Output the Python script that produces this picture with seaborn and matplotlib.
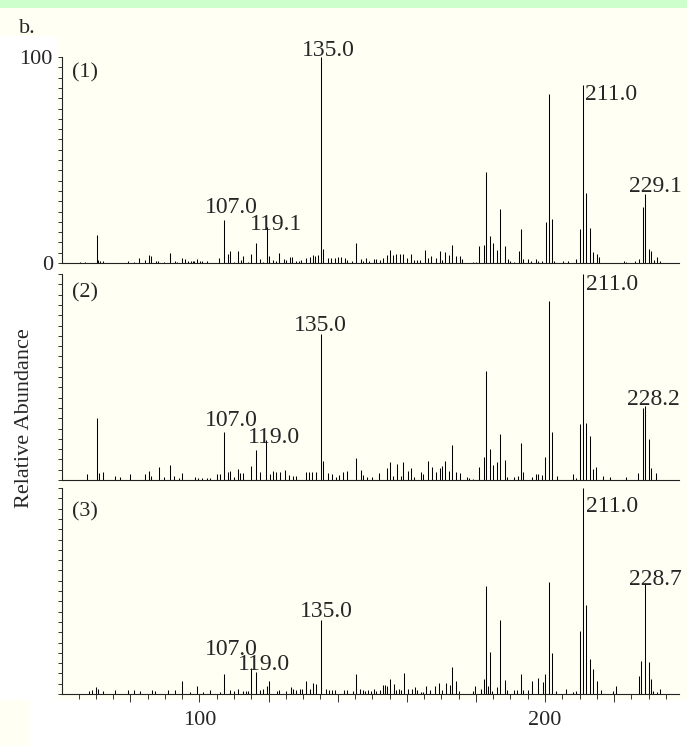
import matplotlib

matplotlib.use("Agg")
import matplotlib.pyplot as plt
import matplotlib.patches as mpatches
from matplotlib.ticker import MultipleLocator, FixedLocator, FuncFormatter
import seaborn as sns

sns.set_theme(style="ticks")
plt.rcParams["font.family"] = ["Liberation Serif", "DejaVu Serif"]

# --- spectrum (1): m/z and relative abundance ---
mz1 = [65.5, 67.0, 70.2, 70.6, 71.3, 72.2, 79.2, 80.9, 82.4, 84.3, 85.3, 86.1,
       87.4, 88.0, 89.6, 91.4, 92.8, 93.4, 95.0, 95.8, 96.6, 97.5, 98.0, 98.5,
       99.2, 100.2, 100.8, 102.1, 105.6, 107.0, 108.2, 108.9, 110.1, 111.2,
       111.9, 112.7, 114.1, 115.0, 116.3, 117.5, 118.5, 119.4, 120.2, 121.4,
       122.1, 123.1, 124.4, 124.9, 126.1, 126.9, 128.0, 128.7, 129.4, 130.9,
       132.1, 132.9, 133.5, 134.4, 135.1, 135.8, 137.1, 138.0, 139.2, 140.2,
       141.1, 142.1, 142.7, 144.2, 145.4, 146.7, 147.4, 148.2, 149.1, 150.6,
       151.2, 152.2, 153.0, 154.2, 155.0, 155.9, 157.0, 157.9, 159.0, 160.2,
       161.2, 162.2, 162.9, 163.9, 165.3, 166.1, 166.9, 168.5, 169.5, 170.3,
       171.1, 172.3, 173.1, 174.2, 175.3, 176.0, 179.2, 180.0, 181.0, 182.3,
       183.0, 184.2, 185.1, 186.2, 187.1, 188.3, 189.4, 189.9, 191.0, 192.5,
       193.1, 193.6, 195.2, 195.9, 197.4, 198.1, 199.0, 200.3, 201.2, 202.0,
       202.6, 205.2, 206.8, 208.9, 210.2, 211.0, 211.9, 213.1, 214.0, 215.0,
       215.7, 222.9, 223.6, 226.2, 227.2, 228.3, 229.1, 230.1, 230.8, 231.5,
       232.5, 233.3]
ab1 = [0.6, 0.6, 13.8, 1.3, 1.1, 1.1, 1.0, 0.6, 2.4, 1.3, 4.0, 3.2,
       1.1, 1.0, 0.6, 4.9, 1.1, 0.6, 2.4, 2.1, 1.1, 0.8, 0.8, 0.8,
       1.9, 0.8, 0.8, 0.8, 2.4, 21.0, 4.2, 6.0, 0.6, 6.0,
       1.3, 3.2, 0.6, 4.2, 9.7, 2.1, 0.6, 17.3, 3.2, 1.3,
       1.1, 5.0, 2.1, 1.6, 2.8, 2.8, 1.1, 1.0, 1.3, 2.4,
       2.8, 3.7, 3.6, 3.7, 100.0, 7.0, 2.3, 2.3, 2.4, 2.8,
       2.8, 2.4, 1.6, 1.0, 9.7, 1.9, 1.1, 2.6, 1.0, 1.8,
       2.1, 1.3, 2.6, 3.7, 6.5, 3.9, 4.2, 4.2, 4.2, 2.3,
       4.2, 1.3, 1.3, 1.3, 6.5, 2.4, 3.2, 2.6, 5.7, 1.3,
       5.2, 3.7, 8.9, 3.2, 3.2, 2.1, 0.6, 0.6, 8.4, 8.9,
       44.3, 13.3, 9.7, 6.1, 26.1, 8.3, 2.1, 1.1, 0.6, 5.7,
       16.7, 2.1, 2.1, 1.1, 2.1, 1.1, 1.1, 20.1, 82.2, 21.5,
       1.0, 1.0, 1.0, 2.1, 16.7, 86.6, 34.1, 17.2, 5.2, 4.2,
       2.9, 1.0, 0.6, 1.0, 2.1, 27.0, 33.7, 7.0, 6.0, 1.6,
       2.8, 1.0]

# --- spectrum (2) ---
mz2 = [67.4, 70.2, 70.9, 72.1, 75.4, 76.9, 79.9, 84.3, 85.3, 85.9, 88.2, 89.8,
       91.4, 92.7, 94.0, 95.0, 98.7, 99.7, 100.8, 102.1, 103.0, 105.1, 106.0,
       107.0, 108.2, 108.7, 110.1, 111.2, 111.8, 112.7, 115.0, 116.3, 117.5,
       119.3, 120.3, 121.2, 122.1, 123.3, 124.8, 125.8, 127.0, 127.9, 130.8,
       131.8, 132.7, 133.7, 135.1, 135.8, 137.1, 138.3, 139.5, 140.4, 141.4,
       142.7, 145.4, 146.7, 147.4, 148.6, 149.8, 152.0, 154.2, 155.0, 156.1,
       157.3, 158.2, 159.0, 160.4, 161.2, 162.2, 164.1, 164.8, 166.2, 167.2,
       168.5, 169.5, 170.3, 171.1, 172.3, 173.1, 174.2, 175.3, 177.4, 178.0,
       179.2, 181.0, 182.3, 183.0, 184.2, 185.1, 186.2, 187.1, 188.3, 189.1,
       191.0, 192.2, 193.1, 193.6, 196.3, 197.4, 198.1, 199.0, 200.0, 201.2,
       202.0, 203.6, 208.0, 209.0, 210.0, 211.0, 212.0, 213.1, 214.0, 214.9,
       216.9, 218.8, 223.4, 226.8, 228.3, 229.1, 230.1, 230.8, 232.0]
ab2 = [2.9, 30.3, 3.6, 3.9, 1.9, 1.6, 2.8, 2.8, 4.5, 1.9, 6.1, 1.3,
       7.1, 1.9, 1.1, 3.2, 1.3, 0.8, 0.8, 0.8, 0.8, 3.1, 3.1,
       23.1, 3.7, 4.5, 1.6, 5.5, 3.2, 3.2, 7.0, 14.6, 3.9,
       19.3, 2.9, 4.5, 3.9, 3.7, 4.9, 2.4, 1.9, 1.9, 3.9,
       3.9, 3.9, 3.9, 70.9, 9.1, 3.6, 2.9, 1.6, 2.4, 4.0,
       4.5, 10.5, 4.9, 2.4, 1.6, 1.3, 3.2, 6.0, 8.7, 1.9,
       7.8, 1.9, 8.7, 4.5, 5.7, 1.3, 3.9, 2.8, 9.2, 6.5,
       3.9, 5.7, 7.0, 9.2, 4.5, 16.8, 3.9, 3.2, 1.3, 0.8,
       0.5, 6.5, 11.2, 52.8, 15.0, 7.3, 8.7, 22.3, 9.7, 1.5,
       1.6, 1.9, 18.1, 3.9, 1.6, 2.9, 2.9, 2.3, 11.0, 87.1,
       23.1, 1.9, 2.9, 0.8, 27.2, 100.0, 27.5, 21.4, 5.5, 6.1,
       1.9, 1.3, 1.3, 3.2, 35.0, 35.9, 19.9, 5.7, 3.2]

# --- spectrum (3) ---
mz3 = [68.0, 68.9, 70.1, 70.6, 72.2, 75.6, 79.2, 80.9, 82.9, 86.2, 87.1, 91.0,
       92.9, 95.0, 97.3, 99.2, 100.9, 103.0, 106.0, 107.0, 108.9, 109.9, 111.2,
       112.7, 113.5, 114.1, 115.0, 116.3, 117.5, 118.5, 119.4, 120.2, 122.4,
       123.1, 125.0, 126.5, 127.2, 128.0, 129.1, 129.8, 130.8, 132.0, 132.9,
       133.7, 135.1, 136.6, 137.4, 138.3, 139.3, 141.9, 142.6, 144.3, 145.4,
       146.4, 147.2, 148.0, 148.8, 149.6, 150.6, 151.2, 152.2, 153.1, 153.7,
       154.4, 155.1, 156.2, 157.0, 157.7, 158.2, 159.1, 160.3, 161.6, 162.3,
       163.1, 164.1, 164.7, 165.5, 166.8, 168.3, 169.2, 170.3, 171.4, 172.5,
       173.1, 174.3, 175.2, 179.2, 179.7, 181.5, 182.3, 183.0, 183.6, 184.2,
       184.8, 186.2, 187.1, 188.3, 189.1, 191.0, 192.0, 193.1, 193.6, 195.2,
       196.3, 198.1, 199.4, 200.0, 201.2, 202.0, 203.3, 206.1, 208.1, 209.0,
       210.2, 211.0, 212.0, 213.1, 214.0, 215.1, 216.1, 219.6, 220.6, 227.2,
       227.9, 228.9, 230.1, 230.8, 231.3, 232.3, 233.3]
ab3 = [1.5, 1.8, 3.4, 2.4, 1.6, 2.1, 2.1, 2.1, 1.6, 2.1, 1.6, 2.1,
       2.1, 6.3, 1.1, 4.0, 1.0, 1.8, 1.0, 9.9, 2.1, 1.6, 2.6,
       1.5, 1.5, 1.5, 12.6, 10.5, 1.8, 2.6, 4.0, 6.3, 1.5,
       2.1, 1.5, 3.4, 2.6, 1.8, 2.3, 2.3, 6.3, 2.3, 5.5,
       4.7, 35.8, 2.4, 1.9, 1.9, 1.9, 1.8, 2.1, 1.5, 9.5,
       2.6, 1.9, 1.6, 1.8, 1.5, 2.3, 1.5, 2.1, 4.5, 4.2,
       3.7, 7.3, 4.7, 1.8, 2.6, 1.8, 10.4, 2.6, 2.4, 3.4,
       1.8, 1.0, 1.0, 4.0, 2.1, 4.0, 5.5, 1.8, 5.5, 4.2,
       13.1, 6.5, 1.5, 1.5, 3.7, 2.4, 7.3, 52.6, 4.0, 20.4,
       1.5, 3.4, 35.9, 7.0, 2.1, 2.1, 2.1, 9.9, 2.1, 2.1,
       6.5, 7.9, 5.7, 9.9, 54.5, 19.9, 1.5, 2.3, 1.1, 1.5,
       30.6, 100.0, 43.4, 17.2, 12.3, 6.3, 2.1, 1.5, 4.0, 8.6,
       15.9, 53.9, 15.4, 7.3, 1.5, 1.1, 2.6]

panel_tags = ["(1)", "(2)", "(3)"]
peak_labels = [
    ["107.0", "119.1", "135.0", "211.0", "229.1"],
    ["107.0", "119.0", "135.0", "211.0", "228.2"],
    ["107.0", "119.0", "135.0", "211.0", "228.7"],
]
x_tick_labels = {100: "100", 200: "200"}
y_tick_labels = {0: "0", 100: "100"}

# label placement (x in m/z, baseline in % abundance, alignment)
label_pos = [
    [(109.3, 24.3, "center"), (122.3, 16.0, "center"), (137.2, 100.3, "center"),
     (211.6, 79.1, "left"), (232.0, 34.5, "center")],
    [(109.3, 26.2, "center"), (121.5, 18.0, "center"), (134.9, 72.3, "center"),
     (211.8, 92.2, "left"), (231.5, 36.4, "center")],
    [(109.1, 19.0, "center"), (118.6, 11.6, "center"), (136.6, 37.4, "center"),
     (211.8, 88.3, "left"), (232.0, 52.9, "center")],
]
tag_top = [0.972, 0.956, 0.932]

W, H = 687, 752
fig = plt.figure(figsize=(W / 100, H / 100), dpi=100)
fig.patch.set_facecolor("white")
cream = "#FFFFF4"


def fig_rect(x0, y0, x1, y1, color):
    # rectangle in pixel coords, y measured from the top
    fig.patches.append(
        mpatches.Rectangle(
            (x0 / W, 1 - y1 / H), (x1 - x0) / W, (y1 - y0) / H,
            transform=fig.transFigure, facecolor=color, edgecolor="none", zorder=-10,
        )
    )


fig_rect(0, 0, W, 8, "#CCFFCC")
fig_rect(0, 8, W, 36, cream)
fig_rect(57, 36, W, 700, cream)
fig_rect(0, 700, 29, 746, cream)

fig.text(19 / W, 1 - 33 / H, "b.", fontsize=16, va="baseline", ha="left")
fig.text(25 / W, 1 - 418 / H, "Relative Abundance", fontsize=16,
         rotation=90, va="center", ha="center")

spectra = [(mz1, ab1), (mz2, ab2), (mz3, ab3)]
tops = [57, 274, 488]
left, right = 62, 679
ph = 206

for i, (mz, ab) in enumerate(spectra):
    ax = fig.add_axes([left / W, 1 - (tops[i] + ph) / H, (right - left) / W, ph / H])
    ax.set_facecolor(cream)
    ax.vlines(mz, 0, ab, colors="black", linewidth=0.75)
    ax.set_xlim(60.2, 238.8)
    ax.set_ylim(0, 100)
    sns.despine(ax=ax)
    for side in ["left", "bottom"]:
        ax.spines[side].set_color("#222222")
        ax.spines[side].set_linewidth(0.8)

    ax.yaxis.set_major_locator(MultipleLocator(5))
    ax.tick_params(axis="y", direction="out", length=3, width=0.7,
                   color="#333333", pad=3.5, labelsize=16)
    if i == 0:
        ax.yaxis.set_major_formatter(
            FuncFormatter(lambda v, p: y_tick_labels.get(int(round(v)), ""))
        )
    else:
        ax.set_yticklabels([])

    if i == 2:
        ax.xaxis.set_major_locator(FixedLocator(list(range(60, 239, 20))))
        ax.xaxis.set_minor_locator(MultipleLocator(5))
        ax.xaxis.set_major_formatter(
            FuncFormatter(lambda v, p: x_tick_labels.get(int(round(v)), ""))
        )
        ax.tick_params(axis="x", which="major", direction="out", length=6,
                       width=0.7, color="#333333", pad=6, labelsize=16)
        ax.tick_params(axis="x", which="minor", direction="out", length=3.6,
                       width=0.7, color="#333333")
    else:
        ax.tick_params(axis="x", which="both", bottom=False, labelbottom=False)

    ax.text(0.016, tag_top[i], panel_tags[i], transform=ax.transAxes,
            fontsize=16, va="top", ha="left")
    for txt, (lx, ly, ha) in zip(peak_labels[i], label_pos[i]):
        ax.text(lx, ly, txt, fontsize=17, ha=ha, va="baseline", clip_on=False)
    ax.grid(False)

fig.savefig("out.png", dpi=100, facecolor=fig.get_facecolor())
